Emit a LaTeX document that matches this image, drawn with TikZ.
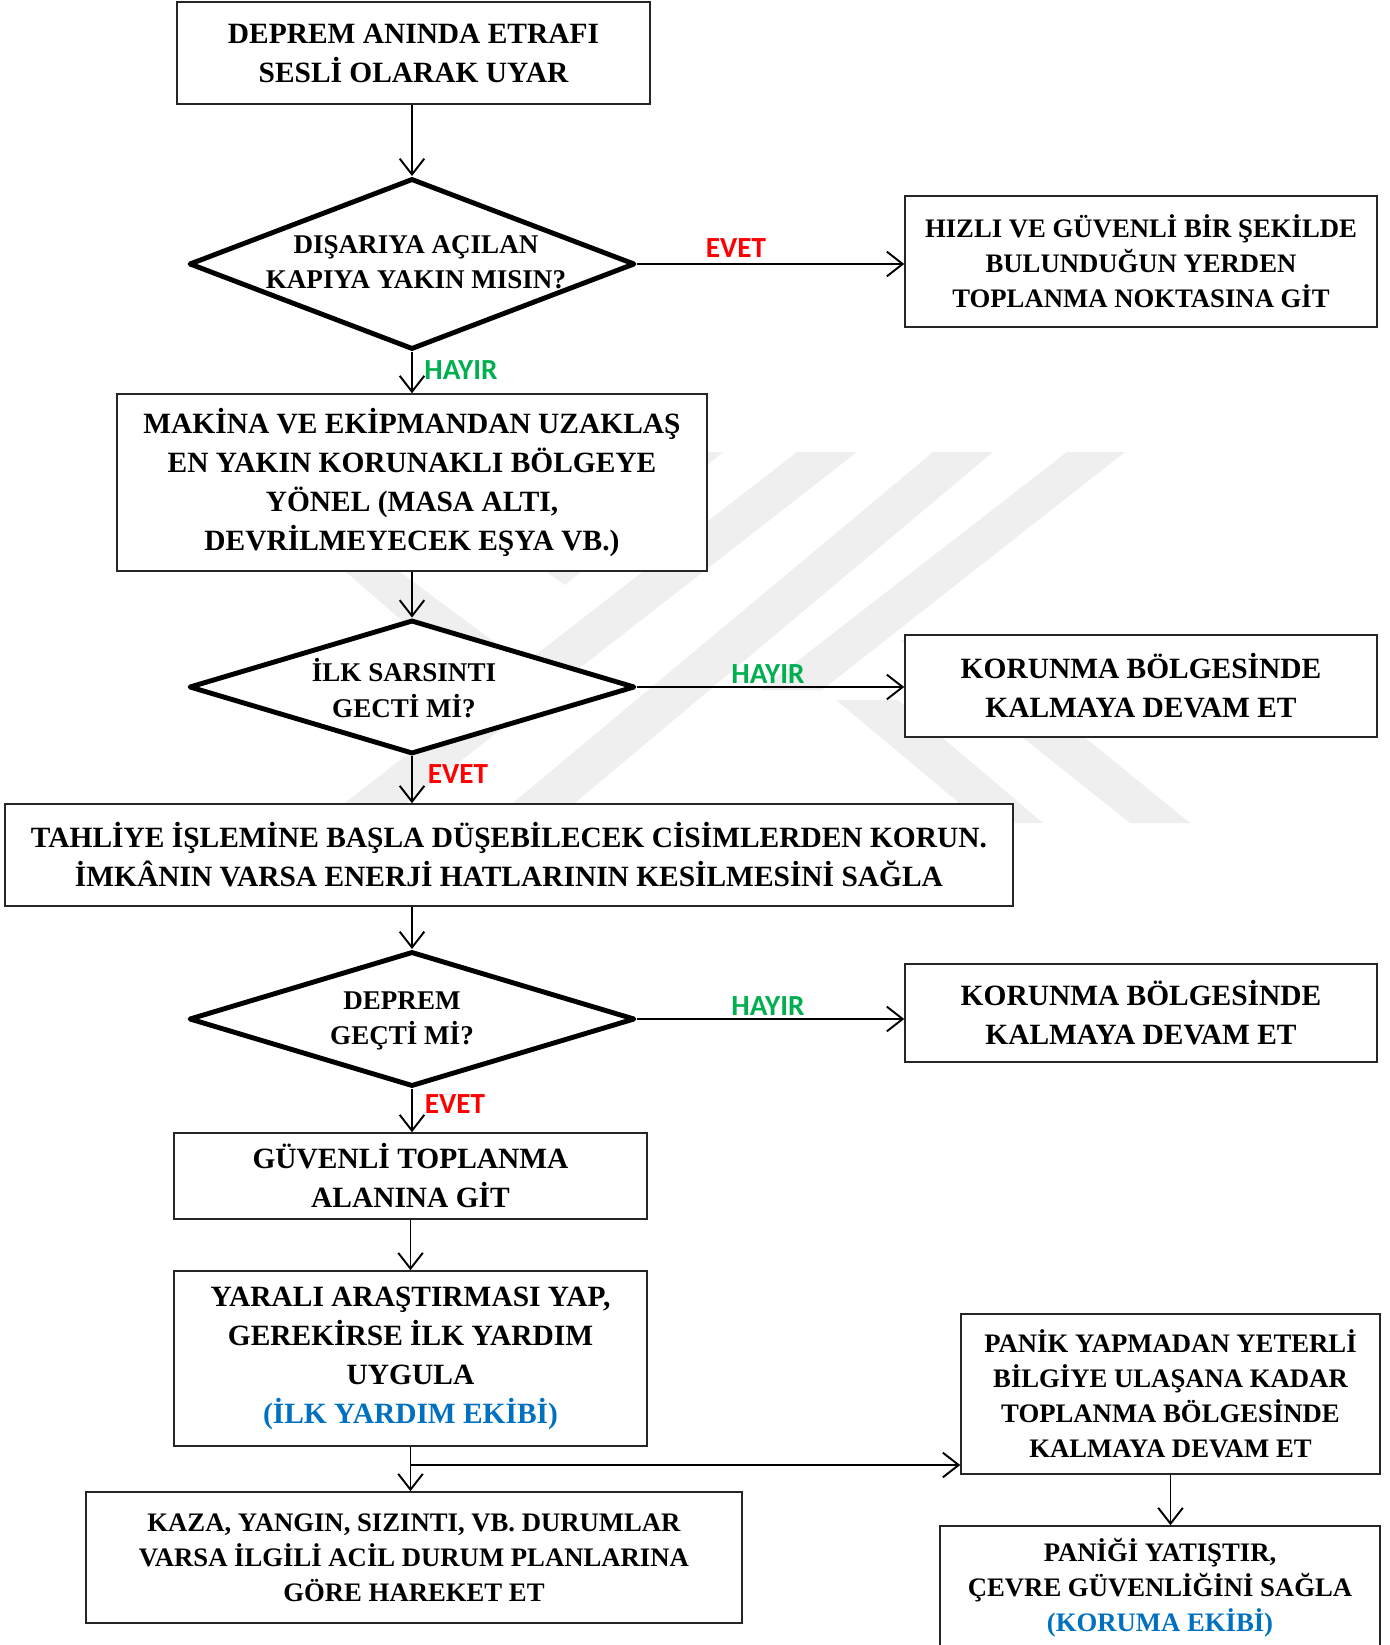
\documentclass[tikz,border=0pt]{standalone}
\usepackage{fontspec}
\setmainfont{Liberation Serif}
\newfontfamily\labelfont{Carlito}
\definecolor{evetred}{HTML}{FF0000}
\definecolor{hayirgreen}{HTML}{00B050}
\definecolor{ekipblue}{HTML}{0070C0}
\definecolor{markgray}{HTML}{EFEFEF}
\usetikzlibrary{shapes.geometric, arrows.meta, positioning}
\tikzset{
	boxnode/.style={
			shape=rectangle,
			draw=black!85,
			line width=0.9pt,
			fill=white,
			inner sep=0pt,
			align=center,
			font=\fontsize{16.75}{22.2}\selectfont\bfseries
		},
	smallboxnode/.style={
			boxnode,
			font=\fontsize{15.2}{20}\selectfont\bfseries
		},
	decisionnode/.style={
			shape=diamond,
			draw=black,
			line width=2.8pt,
			line join=round,
			fill=white,
			inner sep=0pt
		},
	decisiontext/.style={
			align=center,
			inner sep=0pt,
			font=\fontsize{15.4}{20.2}\selectfont\bfseries
		},
	flowarrow/.style={
			line width=1.1pt,
			-{Straight Barb[length=9pt, width=14pt, line width=1.1pt]}
		}
}
\tikzset{
	evetlabel/.style={font=\labelfont\fontsize{16.6}{16}\selectfont\bfseries, text=evetred, inner sep=0pt},
	hayirlabel/.style={evetlabel, text=hayirgreen},
	markstripe/.style={fill=markgray, draw=none}
}
\begin{document}
\begin{tikzpicture}[x=0.02cm, y=-0.02cm]

  \useasboundingbox (0,0) rectangle (1389,1645);

  % watermark
  \fill[markstripe] (319,823) -- (381,823) -- (857,452) -- (797,452) -- cycle;
  \fill[markstripe] (489,823) -- (551,823) -- (993,452) -- (933,452) -- cycle;
  \fill[markstripe] (760,690) -- (822,690) -- (1125,452) -- (1067,452) -- cycle;
  \fill[markstripe] (900,640) -- (965,640) -- (1190,823) -- (1130,823) -- cycle;
  \fill[markstripe] (836,700) -- (898,700) -- (1043,823) -- (983,823) -- cycle;
  \fill[markstripe] (663,452) -- (723,452) -- (565,585) -- (530,560) -- cycle;
  \fill[markstripe] (346,572) -- (400,572) -- (505,650) -- (470,680) -- cycle;

  \node[boxnode, minimum width=9.46cm, minimum height=2.04cm] (warn) at (413.5,53) {DEPREM ANINDA ETRAFI\\SESLİ OLARAK UYAR};

  \node[decisionnode, minimum width=8.92cm, minimum height=3.42cm] (door) at (412,264) {};
  \node[decisiontext] at (416,262) {DIŞARIYA AÇILAN\\KAPIYA YAKIN MISIN?};

  \node[smallboxnode, minimum width=9.44cm, minimum height=2.62cm] (exit) at (1141,261.5) {HIZLI VE GÜVENLİ BİR ŞEKİLDE\\BULUNDUĞUN YERDEN\\TOPLANMA NOKTASINA GİT};

  \node[boxnode, minimum width=11.8cm, minimum height=3.54cm] (shelter) at (412,482.5) {MAKİNA VE EKİPMANDAN UZAKLAŞ\\EN YAKIN KORUNAKLI BÖLGEYE\\YÖNEL (MASA ALTI,\\DEVRİLMEYECEK EŞYA VB.)};

  \node[decisionnode, minimum width=8.92cm, minimum height=2.68cm] (shock) at (412,687) {};
  \node[decisiontext] at (404,688) {İLK SARSINTI\\GECTİ Mİ?};

  \node[boxnode, minimum width=9.44cm, minimum height=2.04cm] (stay1) at (1141,686) {KORUNMA BÖLGESİNDE\\KALMAYA DEVAM ET};

  \node[boxnode, minimum width=20.16cm, minimum height=2.04cm] (evac) at (509,855) {TAHLİYE İŞLEMİNE BAŞLA DÜŞEBİLECEK CİSİMLERDEN KORUN.\\İMKÂNIN VARSA ENERJİ HATLARININ KESİLMESİNİ SAĞLA};

  \node[decisionnode, minimum width=8.92cm, minimum height=2.70cm] (quake) at (412,1019) {};
  \node[decisiontext] at (402,1021) {DEPREM\\GEÇTİ Mİ?};

  \node[boxnode, minimum width=9.44cm, minimum height=1.96cm] (stay2) at (1141,1013) {KORUNMA BÖLGESİNDE\\KALMAYA DEVAM ET};

  \node[boxnode, minimum width=9.46cm, minimum height=1.72cm] (gather) at (410.5,1176) {GÜVENLİ TOPLANMA\\ALANINA GİT};

  \node[boxnode, minimum width=9.46cm, minimum height=3.50cm] (aid) at (410.5,1358.5) {YARALI ARAŞTIRMASI YAP,\\GEREKİRSE İLK YARDIM\\UYGULA\\{\color{ekipblue}(İLK YARDIM EKİBİ)}};

  \node[smallboxnode, minimum width=13.12cm, minimum height=2.62cm] (plans) at (414,1557.5) {KAZA, YANGIN, SIZINTI, VB. DURUMLAR\\VARSA İLGİLİ ACİL DURUM PLANLARINA\\GÖRE HAREKET ET};

  \node[smallboxnode, minimum width=8.38cm, minimum height=3.20cm] (wait) at (1170.5,1394) {PANİK YAPMADAN YETERLİ\\BİLGİYE ULAŞANA KADAR\\TOPLANMA BÖLGESİNDE\\KALMAYA DEVAM ET};

  \node[smallboxnode, minimum width=8.80cm, minimum height=2.48cm] (calm) at (1160,1588) {PANİĞİ YATIŞTIR,\\ÇEVRE GÜVENLİĞİNİ SAĞLA\\{\color{ekipblue}(KORUMA EKİBİ)}};

  % connectors
  \draw[flowarrow] (warn.south -| door.north) -- (door.north);
  \draw[flowarrow] (door.east) -- (door.east -| exit.west);
  \draw[flowarrow] (door.south) -- (door.south |- shelter.north);
  \draw[flowarrow] (shelter.south -| shock.north) -- (shock.north);
  \draw[flowarrow] (shock.east) -- (shock.east -| stay1.west);
  \draw[flowarrow] (shock.south) -- (shock.south |- evac.north);
  \draw[flowarrow] (evac.south -| quake.north) -- (quake.north);
  \draw[flowarrow] (quake.east) -- (quake.east -| stay2.west);
  \draw[flowarrow] (quake.south) -- (quake.south |- gather.north);
  \draw[flowarrow] (gather.south) -- (gather.south |- aid.north);
  \draw[flowarrow] (aid.south) -- (aid.south |- plans.north);
  \coordinate (split) at (410.5,1465);
  \draw[flowarrow] (split) -- (split -| wait.west);
  \draw[flowarrow] (wait.south) -- (wait.south |- calm.north);

  \node[evetlabel] (yes1) at (736,248) {EVET};
  \node[hayirlabel] (no1) at (461,370) {HAYIR};
  \node[hayirlabel] (no2) at (768,674) {HAYIR};
  \node[evetlabel] (yes2) at (458,774) {EVET};
  \node[hayirlabel] (no3) at (768,1006) {HAYIR};
  \node[evetlabel] (yes3) at (455,1104) {EVET};

\end{tikzpicture}
\end{document}
